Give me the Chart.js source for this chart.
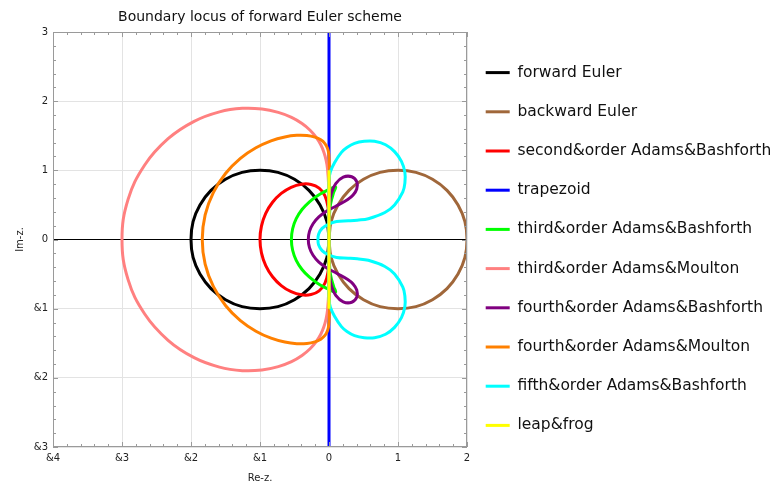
<!DOCTYPE html>
<html lang="en">

<head>
    <meta charset="UTF-8" />
    <title>Boundary locus of forward Euler scheme</title>
    <script src="https://cdn.jsdelivr.net/npm/chart.js"></script>
    <style>
        body { margin: 0; background: #fff; }
    </style>
</head>

<body>
    <canvas id="grafica" width="776" height="484"></canvas>

    <script>
        // curve names and colours, in plotting order
        const names = [
            'forward Euler', 'backward Euler', 'second&order Adams&Bashforth', 'trapezoid',
            'third&order Adams&Bashforth', 'third&order Adams&Moulton', 'fourth&order Adams&Bashforth',
            'fourth&order Adams&Moulton', 'fifth&order Adams&Bashforth', 'leap&frog'
        ];
        const colors = ['#000000', '#a0673a', '#ff0000', '#0000ff', '#00ff00',
            '#ff8080', '#800080', '#ff8000', '#00ffff', '#ffff00'];

        // points (Re z, Im z), going round each locus
        const fwdX = [0, -0.03, -0.13, -0.29, -0.5, -0.74, -1, -1.26, -1.5, -1.71, -1.87, -1.97, -2,
            -1.97, -1.87, -1.71, -1.5, -1.26, -1, -0.74, -0.5, -0.29, -0.13, -0.03, 0];
        const fwdY = [0, 0.26, 0.5, 0.71, 0.87, 0.97, 1, 0.97, 0.87, 0.71, 0.5, 0.26, 0,
            -0.26, -0.5, -0.71, -0.87, -0.97, -1, -0.97, -0.87, -0.71, -0.5, -0.26, 0];

        const bwdX = [0, 0.03, 0.13, 0.29, 0.5, 0.74, 1, 1.26, 1.5, 1.71, 1.87, 1.97, 2,
            1.97, 1.87, 1.71, 1.5, 1.26, 1, 0.74, 0.5, 0.29, 0.13, 0.03, 0];
        const bwdY = [0, 0.26, 0.5, 0.71, 0.87, 0.97, 1, 0.97, 0.87, 0.71, 0.5, 0.26, 0,
            -0.26, -0.5, -0.71, -0.87, -0.97, -1, -0.97, -0.87, -0.71, -0.5, -0.26, 0];

        const ab2X = [0, 0, -0.015, -0.06, -0.143, -0.26, -0.4, -0.549, -0.692, -0.818, -0.917, -0.979, -1,
            -0.979, -0.917, -0.818, -0.692, -0.549, -0.4, -0.26, -0.143, -0.06, -0.015, 0, 0];
        const ab2Y = [0, 0.255, 0.472, 0.635, 0.742, 0.796, 0.8, 0.755, 0.666, 0.538, 0.377, 0.194, 0,
            -0.194, -0.377, -0.538, -0.666, -0.755, -0.8, -0.796, -0.742, -0.635, -0.472, -0.255, 0];

        const trapX = [0, 0];
        const trapY = [-3, 3];

        const ab3X = [0, 0.002, 0.022, 0.07, 0.091, 0.097, 0.085, 0.055, -0.041, -0.162, -0.283, -0.391, -0.475, -0.527, -0.545,
            -0.527, -0.475, -0.391, -0.283, -0.162, -0.041, 0.055, 0.085, 0.097, 0.091, 0.07, 0.022, 0.002, 0];
        const ab3Y = [0, 0.261, 0.508, 0.688, 0.736, 0.757, 0.759, 0.749, 0.703, 0.636, 0.545, 0.433, 0.301, 0.155, 0,
            -0.155, -0.301, -0.433, -0.545, -0.636, -0.703, -0.749, -0.759, -0.757, -0.736, -0.688, -0.508, -0.261, 0];

        const am3X = [0, 0, 0, -0.005, -0.022, -0.042, -0.073, -0.119, -0.185, -0.274, -0.391, -0.543, -0.735, -0.971, -1.256, -1.587, -1.955, -2.332, -2.671, -2.913, -3,
            -2.913, -2.671, -2.332, -1.955, -1.587, -1.256, -0.971, -0.735, -0.543, -0.391, -0.274, -0.185, -0.119, -0.073, -0.042, -0.022, -0.005, 0, 0, 0];
        const am3Y = [0, 0.26, 0.523, 0.779, 1.026, 1.145, 1.259, 1.37, 1.477, 1.58, 1.677, 1.766, 1.838, 1.887, 1.896, 1.845, 1.708, 1.457, 1.077, 0.576, 0,
            -0.576, -1.077, -1.457, -1.708, -1.845, -1.896, -1.887, -1.838, -1.766, -1.677, -1.58, -1.477, -1.37, -1.259, -1.145, -1.026, -0.779, -0.523, -0.26, 0];

        const ab4X = [0, 0, 0.01, 0.036, 0.098, 0.206, 0.329, 0.404, 0.402, 0.349, 0.272, 0.11, -0.032, -0.147, -0.231, -0.283, -0.3,
            -0.283, -0.231, -0.147, -0.032, 0.11, 0.272, 0.349, 0.402, 0.404, 0.329, 0.206, 0.098, 0.036, 0.01, 0, 0];
        const ab4Y = [0, 0.262, 0.533, 0.674, 0.808, 0.901, 0.907, 0.831, 0.73, 0.643, 0.578, 0.488, 0.411, 0.326, 0.227, 0.117, 0,
            -0.117, -0.227, -0.326, -0.411, -0.488, -0.578, -0.643, -0.73, -0.831, -0.907, -0.901, -0.808, -0.674, -0.533, -0.262, 0];

        const am4X = [0, 0, 0, 0.002, 0.006, -0.003, -0.022, -0.059, -0.119, -0.205, -0.32, -0.466, -0.64, -0.84, -1.059, -1.284, -1.497, -1.675, -1.795, -1.837,
            -1.795, -1.675, -1.497, -1.284, -1.059, -0.84, -0.64, -0.466, -0.32, -0.205, -0.119, -0.059, -0.022, -0.003, 0.006, 0.002, 0, 0, 0];
        const am4Y = [0, 0.26, 0.523, 0.782, 1.026, 1.235, 1.319, 1.387, 1.441, 1.48, 1.503, 1.506, 1.483, 1.427, 1.326, 1.173, 0.958, 0.682, 0.356, 0,
            -0.356, -0.682, -0.958, -1.173, -1.326, -1.427, -1.483, -1.506, -1.503, -1.48, -1.441, -1.387, -1.319, -1.235, -1.026, -0.782, -0.523, -0.26, 0];

        const ab5X = [0, 0, 0, 0, 0.02, 0.08, 0.18, 0.26, 0.37, 0.51, 0.66, 0.82, 0.95, 1.05, 1.1, 1.1, 1.07, 0.95, 0.81, 0.57, 0.41, 0.28, 0.11, -0.01, -0.1, -0.15, -0.16,
            -0.15, -0.1, -0.01, 0.11, 0.28, 0.41, 0.57, 0.81, 0.95, 1.07, 1.1, 1.1, 1.05, 0.95, 0.82, 0.66, 0.51, 0.37, 0.26, 0.18, 0.08, 0.02, 0, 0, 0, 0];
        const ab5Y = [0, 0.26, 0.53, 0.86, 0.98, 1.11, 1.26, 1.33, 1.39, 1.42, 1.42, 1.37, 1.27, 1.13, 0.97, 0.82, 0.69, 0.5, 0.39, 0.3, 0.28, 0.27, 0.26, 0.22, 0.16, 0.08, 0,
            -0.08, -0.16, -0.22, -0.26, -0.27, -0.28, -0.3, -0.39, -0.5, -0.69, -0.82, -0.97, -1.13, -1.27, -1.37, -1.42, -1.42, -1.39, -1.33, -1.26, -1.11, -0.98, -0.86, -0.53, -0.26, 0];

        const leapX = [0, 0];
        const leapY = [-1, 1];

        const curvesX = [fwdX, bwdX, ab2X, trapX, ab3X, am3X, ab4X, am4X, ab5X, leapX];
        const curvesY = [fwdY, bwdY, ab2Y, trapY, ab3Y, am3Y, ab4Y, am4Y, ab5Y, leapY];

        // axis ranges and tick step
        const xRange = [-4, 2];
        const yRange = [-3, 3];
        const minorStep = 0.2;

        // minus signs show up as '&' in the original picture
        function tickText(v) {
            return v < 0 ? '&' + (-v) : String(v);
        }

        // box round the plot with small inward ticks on all four sides
        const frameTicks = {
            id: 'frameTicks',
            afterLayout(chart) {
                // nudge the legend a few px closer to the plot
                chart.legend.left -= 5;
                chart.legend.right -= 5;
            },
            afterDatasetsDraw(chart) {
                const { ctx, chartArea: a, scales: { x, y } } = chart;
                ctx.save();
                ctx.strokeStyle = '#9a9a9a';
                ctx.lineWidth = 1;
                ctx.beginPath();
                const nx = Math.round((x.max - x.min) / minorStep);
                for (let i = 0; i <= nx; i++) {
                    const px = Math.round(x.getPixelForValue(x.min + i * minorStep)) + 0.5;
                    const len = i % 5 === 0 ? 5 : 3;
                    ctx.moveTo(px, a.bottom); ctx.lineTo(px, a.bottom - len);
                    ctx.moveTo(px, a.top); ctx.lineTo(px, a.top + len);
                }
                const ny = Math.round((y.max - y.min) / minorStep);
                for (let i = 0; i <= ny; i++) {
                    const py = Math.round(y.getPixelForValue(y.min + i * minorStep)) + 0.5;
                    const len = i % 5 === 0 ? 5 : 3;
                    ctx.moveTo(a.left, py); ctx.lineTo(a.left + len, py);
                    ctx.moveTo(a.right, py); ctx.lineTo(a.right - len, py);
                }
                ctx.stroke();
                ctx.strokeRect(a.left + 0.5, a.top + 0.5, a.right - a.left - 1, a.bottom - a.top - 1);
                ctx.restore();
            }
        };

        Chart.defaults.font.family = "'DejaVu Sans', sans-serif";
        Chart.defaults.color = '#222';

        const datasets = names.map((name, i) => ({
            label: name,
            data: curvesX[i].map((x, k) => ({ x: x, y: curvesY[i][k] })),
            borderColor: colors[i],
            backgroundColor: colors[i],
            showLine: true,
            borderWidth: 3,
            pointRadius: 0,
            tension: 0.4,
            order: -i   // later curves drawn on top
        }));

        const gridColor = c => c.tick.value === 0 ? '#000000' : '#e3e3e3';

        new Chart(document.getElementById('grafica').getContext('2d'), {
            type: 'scatter',
            data: { datasets },
            options: {
                responsive: false,
                animation: false,
                layout: { padding: 0 },
                scales: {
                    x: {
                        type: 'linear',
                        min: xRange[0],
                        max: xRange[1],
                        ticks: { stepSize: 1, callback: tickText, font: { size: 10 }, padding: 5 },
                        grid: { color: gridColor, drawTicks: false },
                        border: { display: false },
                        title: { display: true, text: 'Re-z.', font: { size: 10 }, padding: { top: 0, bottom: 0 } },
                        afterFit: s => { s.height = 37; }
                    },
                    y: {
                        type: 'linear',
                        min: yRange[0],
                        max: yRange[1],
                        ticks: { stepSize: 1, callback: tickText, font: { size: 10 }, padding: 5 },
                        grid: { color: gridColor, drawTicks: false },
                        border: { display: false },
                        title: { display: true, text: 'Im-z.', font: { size: 10 }, padding: { top: 14, bottom: 0 } },
                        afterFit: s => { s.width = 53; }
                    }
                },
                plugins: {
                    title: {
                        display: true,
                        text: 'Boundary locus of forward Euler scheme',
                        fullSize: false,
                        font: { size: 14, weight: 'normal' },
                        color: '#111',
                        padding: { top: 9, bottom: 6.2 }
                    },
                    legend: {
                        position: 'right',
                        maxWidth: 309,
                        // empty title only pushes the items down a little
                        title: { display: true, text: '', font: { size: 10 }, padding: { top: 0, bottom: 2 } },
                        labels: {
                            usePointStyle: true,
                            pointStyle: 'line',
                            pointStyleWidth: 24,
                            font: { size: 15.5 },
                            color: '#111',
                            padding: 23.7,
                            sort: (a, b) => a.datasetIndex - b.datasetIndex
                        }
                    },
                    tooltip: { enabled: false }
                }
            },
            plugins: [frameTicks]
        });
    </script>
</body>

</html>
